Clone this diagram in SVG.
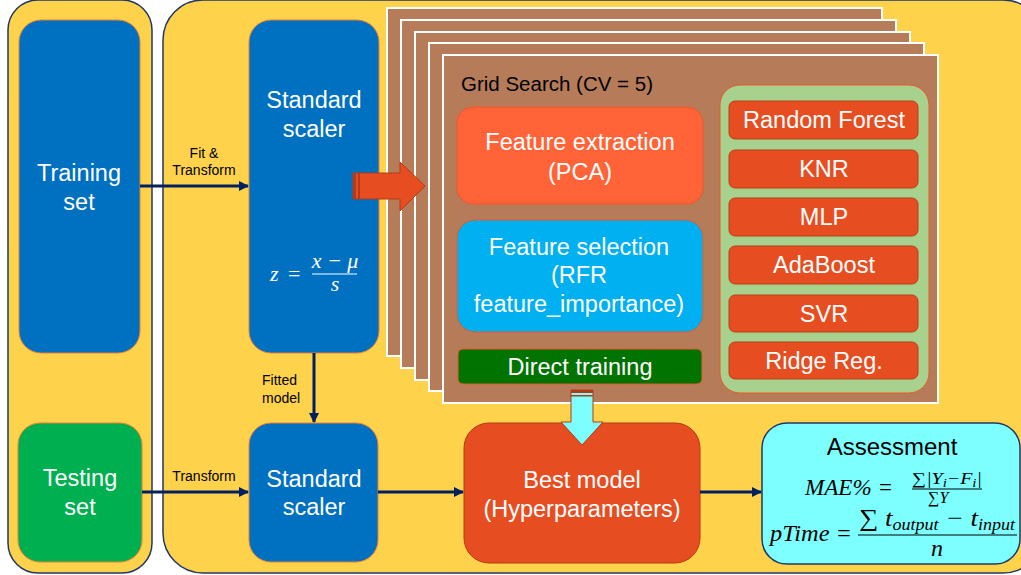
<svg xmlns="http://www.w3.org/2000/svg" width="1021" height="575" viewBox="0 0 1021 575">
<defs>
<marker id="ah" markerWidth="10" markerHeight="10" refX="9" refY="5" orient="auto" markerUnits="userSpaceOnUse">
<path d="M0,0 L10,5 L0,10 Z" fill="#002060"/>
</marker>
<style>
.panel{fill:#FFD24C;stroke:#1F3864;stroke-width:1.5}
.blue{fill:#0070C0;stroke:#ED7D31;stroke-width:1}
.green{fill:#00B050;stroke:#ED7D31;stroke-width:1}
.card{fill:#B67C5A;stroke:#FFFFFF;stroke-width:2}
.model{fill:#E64E22;stroke:#B5401C;stroke-width:1}
.wt{font-family:"Liberation Sans",Arial,sans-serif;fill:#FFFFFF;text-anchor:middle;font-size:23.5px}
.bt{font-family:"Liberation Sans",Arial,sans-serif;fill:#000000;font-size:14px}
.big{font-size:20.5px}
.title{font-size:24px;text-anchor:middle}
.math{font-family:"Liberation Serif","Times New Roman",serif;font-style:italic}
.conn{stroke:#002060;stroke-width:3;fill:none;marker-end:url(#ah)}
</style>
</defs>
<g id="left-panel"><rect class="panel" x="8" y="0" width="144" height="573" rx="30"/></g>
<g id="right-panel"><rect class="panel" x="163" y="0" width="880" height="573" rx="40"/></g>

<g id="training-set">
<rect class="blue" x="19" y="20" width="121" height="333" rx="22"/>
<text class="wt" x="79" y="181">Training</text>
<text class="wt" x="79" y="210">set</text>
</g>
<g id="testing-set">
<rect class="green" x="18" y="423" width="124" height="139" rx="22"/>
<text class="wt" x="80" y="486">Testing</text>
<text class="wt" x="80" y="515">set</text>
</g>
<g id="scaler-top">
<rect class="blue" x="249" y="20" width="130" height="333" rx="22"/>
<text class="wt" x="314" y="108">Standard</text>
<text class="wt" x="314" y="137">scaler</text>
<g class="math" fill="#FFFFFF" style="font-size:22px">
<text x="270" y="281">z</text>
<text x="288" y="281" font-style="normal">=</text>
<text x="335" y="268" text-anchor="middle">x − μ</text>
<line x1="312" y1="274" x2="357" y2="274" stroke="#FFFFFF" stroke-width="1.2"/>
<text x="335" y="291" text-anchor="middle">s</text>
</g>
</g>
<g id="scaler-bottom">
<rect class="blue" x="249" y="423" width="129" height="139" rx="22"/>
<text class="wt" x="314" y="487">Standard</text>
<text class="wt" x="314" y="515">scaler</text>
</g>

<g id="grid-search">
<rect class="card" x="387" y="8" width="495" height="348"/>
<rect class="card" x="401" y="20" width="495" height="348"/>
<rect class="card" x="415" y="32" width="495" height="348"/>
<rect class="card" x="429" y="43" width="495" height="348"/>
<rect class="card" x="443" y="55" width="495" height="348"/>
<text class="bt big" x="461" y="91">Grid Search (CV = 5)</text>
</g>
<g id="feature-extraction">
<rect x="457" y="107" width="246" height="97" rx="16" fill="#FF6337" stroke="#E8582A"/>
<text class="wt" x="580" y="150">Feature extraction</text>
<text class="wt" x="580" y="180">(PCA)</text>
</g>
<g id="feature-selection">
<rect x="457" y="220" width="246" height="112" rx="18" fill="#00B0F0" stroke="#E8582A"/>
<text class="wt" x="579" y="255">Feature selection</text>
<text class="wt" x="579" y="283">(RFR</text>
<text class="wt" x="579" y="312">feature_importance)</text>
</g>
<g id="direct-training">
<rect x="458" y="349" width="244" height="35" rx="5" fill="#007300" stroke="#E8582A"/>
<text class="wt" x="580" y="375">Direct training</text>
</g>
<g id="models">
<rect x="720" y="85" width="209" height="308" rx="20" fill="#A9D18E" stroke="#E8582A"/>
<rect class="model" x="729" y="101" width="189" height="38" rx="6"/>
<text class="wt" x="824" y="128">Random Forest</text>
<rect class="model" x="729" y="150" width="189" height="38" rx="6"/>
<text class="wt" x="824" y="177">KNR</text>
<rect class="model" x="729" y="198" width="189" height="38" rx="6"/>
<text class="wt" x="824" y="225">MLP</text>
<rect class="model" x="729" y="246" width="189" height="38" rx="6"/>
<text class="wt" x="824" y="273">AdaBoost</text>
<rect class="model" x="729" y="295" width="189" height="37" rx="6"/>
<text class="wt" x="824" y="322">SVR</text>
<rect class="model" x="729" y="342" width="189" height="37" rx="6"/>
<text class="wt" x="824" y="369">Ridge Reg.</text>
</g>

<g id="best-model">
<rect x="464" y="423" width="236" height="140" rx="25" fill="#E64E22" stroke="#B33A17"/>
<text class="wt" x="582" y="488">Best model</text>
<text class="wt" x="582" y="517">(Hyperparameters)</text>
</g>
<g id="assessment">
<rect x="762" y="423" width="258" height="141" rx="25" fill="#7DFFFF" stroke="#1F3864" stroke-width="1.5"/>
<text class="bt title" x="892" y="455">Assessment</text>
<g class="math" fill="#000000">
<text x="805" y="495" style="font-size:23px" textLength="88" lengthAdjust="spacingAndGlyphs">MAE% =</text>
<text x="912" y="484" style="font-size:16px" textLength="70" lengthAdjust="spacingAndGlyphs">∑|Y<tspan style="font-size:12px" dy="3">i</tspan><tspan dy="-3">−F</tspan><tspan style="font-size:12px" dy="3">i</tspan><tspan dy="-3">|</tspan></text>
<line x1="912" y1="489" x2="982" y2="489" stroke="#000" stroke-width="1"/>
<text x="928" y="503" style="font-size:16px">∑Y</text>
<text x="770" y="541" style="font-size:24px" textLength="82" lengthAdjust="spacingAndGlyphs">pTime =</text>
<text x="859" y="526" style="font-size:24px" textLength="156" lengthAdjust="spacingAndGlyphs">∑ t<tspan style="font-size:16px" dy="4">output</tspan><tspan dy="-4"> − t</tspan><tspan style="font-size:16px" dy="4">input</tspan></text>
<line x1="858" y1="535" x2="1017" y2="535" stroke="#000" stroke-width="1.2"/>
<text x="937" y="556" style="font-size:24px" text-anchor="middle">n</text>
</g>
</g>

<g id="connectors">
<line class="conn" x1="140" y1="186" x2="248" y2="186"/>
<line class="conn" x1="142" y1="492" x2="248" y2="492"/>
<line class="conn" x1="314" y1="353" x2="314" y2="422"/>
<line class="conn" x1="378" y1="492" x2="463" y2="492"/>
<line class="conn" x1="700" y1="492" x2="761" y2="492"/>
<text class="bt" x="204" y="158" text-anchor="middle">Fit &amp;</text>
<text class="bt" x="204" y="175" text-anchor="middle">Transform</text>
<text class="bt" x="204" y="481" text-anchor="middle">Transform</text>
<text class="bt" x="262" y="385">Fitted</text>
<text class="bt" x="262" y="403">model</text>
<g id="orange-arrow">
<path d="M353,173 L400,173 L400,162 L425,186 L400,211 L400,199 L353,199 Z" fill="#E64E22" stroke="#B33A17" stroke-width="1"/>
<rect x="353" y="173" width="3" height="26" fill="#B33A17"/>
<rect x="358" y="173" width="2" height="26" fill="#B33A17"/>
</g>
<g id="cyan-arrow">
<path d="M571,390 L593,390 L593,422 L603,422 L582,445 L561,422 L571,422 Z" fill="#7DFFFF" stroke="#B33A17" stroke-width="1"/>
<rect x="571" y="390" width="22" height="3" fill="#B33A17"/>
<rect x="571" y="395" width="22" height="1.5" fill="#B33A17"/>
</g>
</g>
</svg>
